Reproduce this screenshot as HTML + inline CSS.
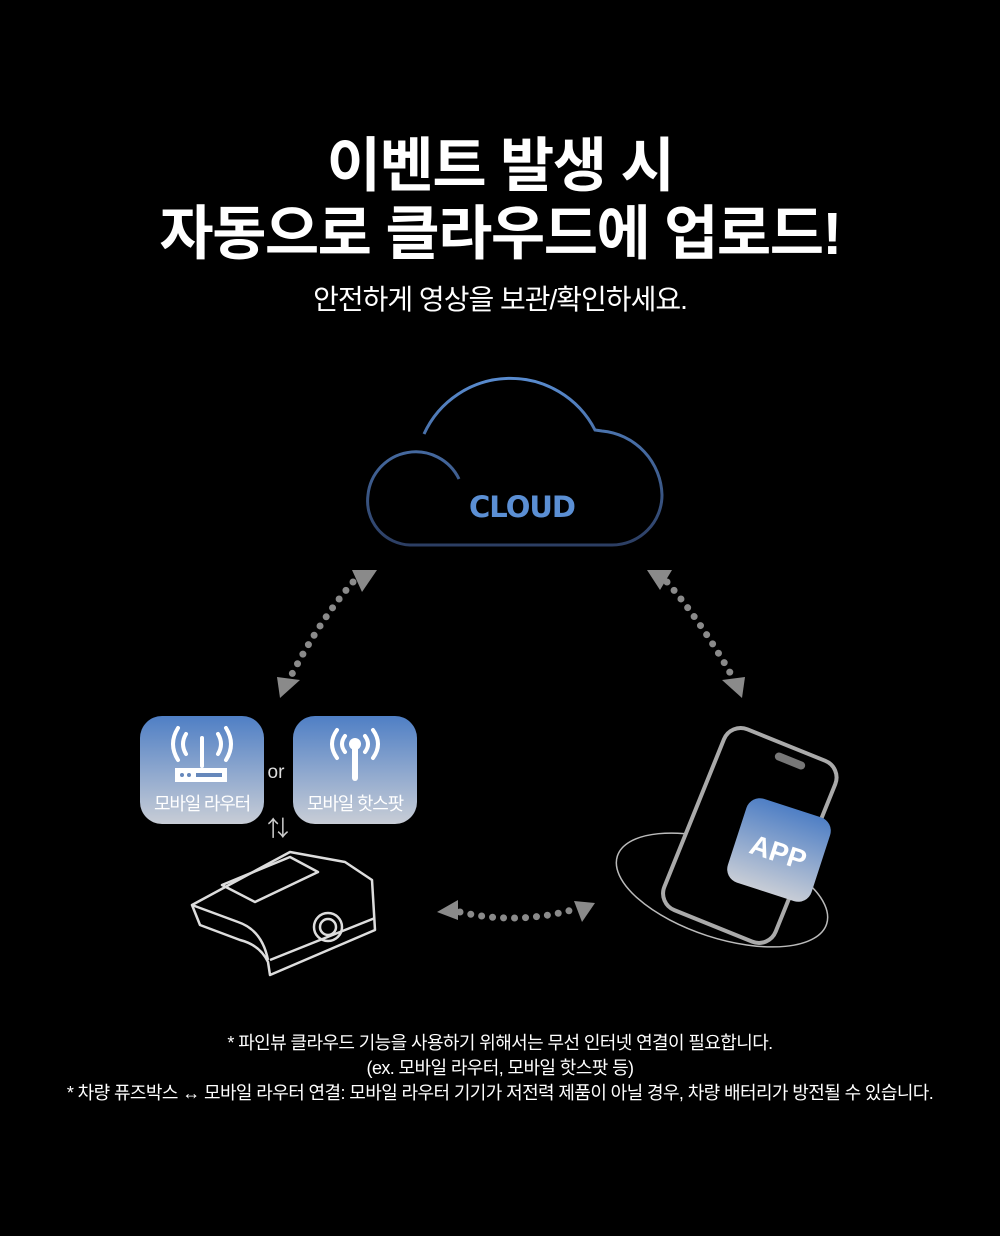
<!DOCTYPE html>
<html><head><meta charset="utf-8"><style>
html,body{margin:0;padding:0;background:#000;}
#w{position:relative;width:1000px;height:1236px;overflow:hidden;background:#000;font-family:"Liberation Sans","Noto Sans CJK KR",sans-serif;color:#fff;}
.t{position:absolute;left:0;width:1000px;text-align:center;white-space:nowrap;}
.h{font-weight:bold;font-size:59px;letter-spacing:-1.5px;}
.f{font-size:18px;letter-spacing:-0.6px;}
.box{position:absolute;width:124px;height:108px;border-radius:22px;background:linear-gradient(#4f7fc5,#c8cdd6);}
.bl{position:absolute;left:0;width:124px;bottom:8px;text-align:center;font-size:18px;letter-spacing:-1.2px;color:#fff;}
</style></head><body><div id="w">
<div class="t h" style="top:118px;">이벤트 발생 시</div>
<div class="t h" style="top:186px;">자동으로 클라우드에 업로드!</div>
<div class="t" style="top:278px;font-size:28px;letter-spacing:-1px;">안전하게 영상을 보관/확인하세요.</div>

<svg width="1000" height="1236" style="position:absolute;left:0;top:0">
<defs>
<linearGradient id="cg" x1="0" y1="370" x2="0" y2="546" gradientUnits="userSpaceOnUse"><stop offset="0" stop-color="#5b8fd4"/><stop offset="1" stop-color="#2c3e63"/></linearGradient>
<linearGradient id="ag" x1="0" y1="0" x2="0" y2="1"><stop offset="0" stop-color="#4f7fc5"/><stop offset="1" stop-color="#c8cdd6"/></linearGradient>
</defs>
<path d="M424,434 A95,95 0 0 1 595,430 L602,431 A66,66 0 0 1 662,495 A50,50 0 0 1 612,545 L410,545 A44,44 0 0 1 368,495 A48,48 0 0 1 459,479" fill="none" stroke="url(#cg)" stroke-width="3"/>
<text x="522" y="517" text-anchor="middle" font-family="DejaVu Sans" font-weight="bold" font-size="29" fill="#5b8fd4" letter-spacing="-1">CLOUD</text>
<g fill="#8a8a8a">
<path d="M352,570 L377,570 L362,592 Z"/>
<path d="M280,698 L300,680 L277,677 Z"/>
<path d="M647,570 L672,570 L660,590 Z"/>
<path d="M742,698 L722,680 L745,677 Z"/>
<path d="M437,912 L458,900 L458,920 Z"/>
<path d="M595,903 L574,901 L582,922 Z"/>
</g>
<g stroke="#8a8a8a" stroke-width="7" stroke-linecap="round" stroke-dasharray="0 11" fill="none">
<path d="M353,582 Q320,620 291,676"/>
<path d="M667,582 Q700,620 732,676"/>
<path d="M460,912 Q515,925 572,910"/>
</g>
<text x="276" y="778" text-anchor="middle" font-size="19" fill="#ddd" font-family="Liberation Sans">or</text>
<text x="278" y="836" text-anchor="middle" font-size="22" fill="#ccc">⇅</text>
<g fill="none" stroke="#ddd" stroke-width="2.5" stroke-linejoin="round">
<path d="M192,905 L290,852 L345,862 L372,880 L375,930 L270,975 L268,962 Q260,945 240,940 L200,925 Z"/>
<path d="M192,905 L238,922 Q262,930 268,960"/>
<path d="M222,885 L290,857 L318,872 L255,902 Z"/>
<path d="M270,960 L375,918"/>
<circle cx="328" cy="927" r="14"/><circle cx="328" cy="927" r="8"/>
</g>
<ellipse cx="722" cy="890" rx="110" ry="48" transform="rotate(18 722 890)" fill="none" stroke="#bbb" stroke-width="1.5"/>
<rect x="690" y="738" width="120" height="195" rx="18" transform="rotate(22 750 835)" fill="#000" stroke="#aaa" stroke-width="4"/>
<rect x="774" y="757" width="32" height="8" rx="4" transform="rotate(22 790 761)" fill="#777"/>
<g transform="rotate(18 779 850)"><rect x="735" y="806" width="88" height="88" rx="14" fill="url(#ag)"/>
<text x="779" y="862" text-anchor="middle" font-family="Liberation Sans" font-weight="bold" font-size="28" fill="#fff">APP</text></g>
</svg>

<div class="box" style="left:140px;top:716px;"><div class="bl">모바일 라우터</div>
<svg width="124" height="80" style="position:absolute;left:0;top:0" fill="none" stroke="#fff" stroke-width="4" stroke-linecap="round">
<path d="M46,18 Q40,28 46,38"/><path d="M38,12 Q28,28 38,44"/><path d="M78,18 Q84,28 78,38"/><path d="M86,12 Q96,28 86,44"/>
<line x1="62" y1="22" x2="62" y2="50"/>
<rect x="35" y="52" width="52" height="14" fill="#fff" stroke="none"/>
<circle cx="42" cy="59" r="2" fill="#6688bb" stroke="none"/><circle cx="49" cy="59" r="2" fill="#6688bb" stroke="none"/><rect x="56" y="57" width="26" height="4" fill="#6688bb" stroke="none"/>
</svg></div>
<div class="box" style="left:293px;top:716px;"><div class="bl">모바일 핫스팟</div>
<svg width="124" height="80" style="position:absolute;left:0;top:0" fill="none" stroke="#fff" stroke-width="4" stroke-linecap="round">
<path d="M52,20 Q46,28 52,36"/><path d="M44,14 Q34,28 44,42"/><path d="M72,20 Q78,28 72,36"/><path d="M80,14 Q90,28 80,42"/>
<circle cx="62" cy="28" r="6" fill="#fff" stroke="none"/><line x1="62" y1="32" x2="62" y2="62" stroke-width="6"/>
</svg></div>

<div class="t f" style="top:1029px;">* 파인뷰 클라우드 기능을 사용하기 위해서는 무선 인터넷 연결이 필요합니다.</div>
<div class="t f" style="top:1054px;">(ex. 모바일 라우터, 모바일 핫스팟 등)</div>
<div class="t f" style="top:1079px;">* 차량 퓨즈박스 ↔ 모바일 라우터 연결: 모바일 라우터 기기가 저전력 제품이 아닐 경우, 차량 배터리가 방전될 수 있습니다.</div>
</div></body></html>
